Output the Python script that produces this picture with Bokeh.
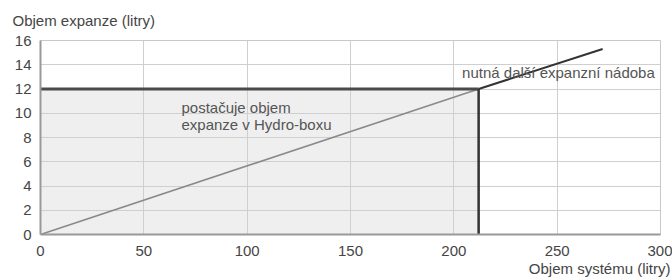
from bokeh.plotting import figure
from bokeh.models import Label, Range1d, FixedTicker, Title
from bokeh.embed import file_html
from bokeh.resources import INLINE

# ---- data ----
x_ticks = [0, 50, 100, 150, 200, 250, 300]
y_ticks = [0, 2, 4, 6, 8, 10, 12, 14, 16]
system_volume = [0, 212, 272]          # litry
expansion_volume = [0, 12, 15.3]       # litry
hydrobox_capacity = 12
system_limit = 212
y_title = "Objem expanze (litry)"
x_title = "Objem systému (litry)"
inside_text = ["postačuje objem", "expanze v Hydro-boxu"]
outside_text = "nutná další expanzní nádoba"

FONT = "Liberation Sans"
TXT = "#454545"
FS = "15px"

p = figure(width=672, height=278, output_backend="svg", toolbar_location=None,
           x_range=Range1d(0, 300), y_range=Range1d(0, 16),
           min_border_left=40, min_border_right=12, min_border_top=40, min_border_bottom=44)
p.outline_line_color = "#c8c8c8"
p.background_fill_color = "white"

for ax in (p.xaxis[0], p.yaxis[0]):
    ax.axis_line_color = "#999999"
    ax.axis_line_width = 2
    ax.major_tick_line_color = None
    ax.minor_tick_line_color = None
    ax.major_tick_out = 0
    ax.major_label_text_font = FONT
    ax.major_label_text_font_size = FS
    ax.major_label_text_color = TXT
p.xaxis.ticker = FixedTicker(ticks=x_ticks)
p.yaxis.ticker = FixedTicker(ticks=y_ticks)
p.xaxis.major_label_standoff = 11
p.yaxis.major_label_standoff = 9

p.xgrid.ticker = FixedTicker(ticks=x_ticks)
p.ygrid.ticker = FixedTicker(ticks=y_ticks)
p.grid.grid_line_color = "#cfcfcf"
p.grid.grid_line_width = 1

# shaded region: capacity of hydro-box
p.quad(left=[0], right=[system_limit], bottom=[0], top=[hydrobox_capacity],
       fill_color="#efefef", line_color=None, level="underlay")

# diagonal: required expansion volume
p.line(system_volume[:2], expansion_volume[:2], line_color="#8a8a8a", line_width=1.6)
p.line(system_volume[1:], expansion_volume[1:], line_color="#333333", line_width=2)

# limit borders
p.line([0, system_limit], [hydrobox_capacity, hydrobox_capacity], line_color="#4a4a4a", line_width=3)
p.line([system_limit, system_limit], [0, hydrobox_capacity], line_color="#333333", line_width=2.5)

# axis titles as layout titles
p.add_layout(Title(text=y_title, align="left", offset=-28, standoff=20, vertical_align="top",
                   text_font=FONT, text_font_size=FS, text_font_style="normal",
                   text_color=TXT), "above")
p.add_layout(Title(text=x_title, align="right", offset=-10, standoff=-2,
                   text_font=FONT, text_font_size=FS, text_font_style="normal",
                   text_color=TXT), "below")

# texts in the plot area
p.add_layout(Label(x=68.2, y=10.47, text=inside_text[0], text_font=FONT, text_font_size=FS,
                   text_color="#555555", text_baseline="middle", text_align="left"))
p.add_layout(Label(x=68.2, y=9.07, text=inside_text[1], text_font=FONT, text_font_size=FS,
                   text_color="#555555", text_baseline="middle", text_align="left"))
p.add_layout(Label(x=204, y=13.36, text=outside_text, text_font=FONT, text_font_size=FS,
                   text_color="#555555", text_baseline="middle", text_align="left"))

open("out.html", "w").write(file_html(p, INLINE))
